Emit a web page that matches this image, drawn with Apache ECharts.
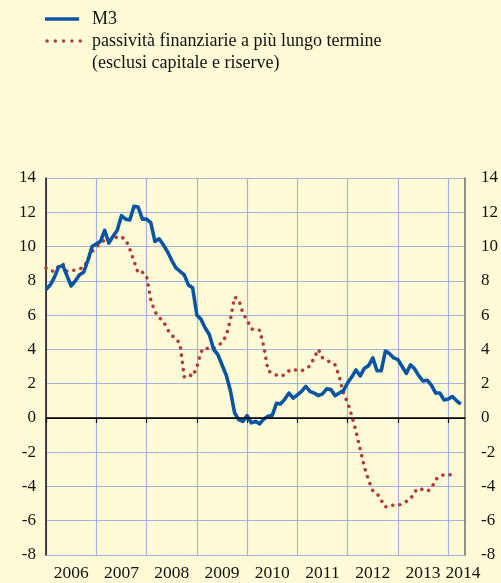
<!DOCTYPE html>
<html>
<head>
<meta charset="utf-8">
<script src="https://cdn.jsdelivr.net/npm/echarts@6/dist/echarts.min.js"></script>
<style>
  html, body { margin: 0; padding: 0; background: #fffbd6; }
  #chart { width: 501px; height: 583px; }
</style>
</head>
<body>
<div id="chart"></div>
<script>
// mesi da gennaio 2006 (indice 0) ad aprile 2014
const startYear = 2006;
const yearLabels = ['2006', '2007', '2008', '2009', '2010', '2011', '2012', '2013', '2014'];

const m3 = [7.5, 7.75, 8.2, 8.8, 8.9, 8.3, 7.7, 8.0, 8.35, 8.5,
    9.2, 10.0, 10.15, 10.3, 10.95, 10.2, 10.6, 10.95, 11.8, 11.6,
    11.55, 12.35, 12.3, 11.6, 11.6, 11.4, 10.3, 10.45, 10.1, 9.7,
    9.2, 8.75, 8.55, 8.35, 7.75, 7.6, 6.0, 5.75, 5.25, 4.85,
    4.0, 3.7, 3.1, 2.5, 1.6, 0.3, -0.1, -0.2, 0.13, -0.29,
    -0.2, -0.35, -0.06, 0.1, 0.15, 0.85, 0.82, 1.1, 1.45, 1.15,
    1.35, 1.55, 1.84, 1.55, 1.45, 1.3, 1.4, 1.7, 1.65, 1.3,
    1.45, 1.6, 2.05, 2.4, 2.8, 2.45, 2.9, 3.05, 3.5, 2.75,
    2.75, 3.9, 3.75, 3.5, 3.4, 3.0, 2.6, 3.1, 2.85, 2.45,
    2.15, 2.2, 1.9, 1.45, 1.45, 1.05, 1.1, 1.25, 1.0, 0.8];

const passivita = [8.74, 8.6, 8.54, 8.85, 9.0, 8.55, 8.58, 8.63, 8.7, 8.78,
    9.22, 9.7, 9.97, 10.2, 10.38, 10.4, 10.35, 10.6, 10.55, 10.42,
    9.85, 9.15, 8.45, 8.5, 8.3, 6.9, 6.2, 5.85, 5.65, 5.16,
    4.81, 4.65, 4.3, 2.4, 2.55, 2.42, 2.95, 3.85, 4.1, 4.0,
    4.05, 4.2, 4.4, 4.8, 5.7, 7.05, 6.9, 6.1, 5.7, 5.2,
    5.12, 5.12, 4.15, 2.75, 2.62, 2.5, 2.42, 2.52, 2.75, 2.85,
    2.75, 2.75, 2.84, 3.05, 3.5, 4.0, 3.5, 3.35, 3.25, 3.1,
    2.4, 1.4, 0.9, 0.1, -0.8, -1.85, -2.88, -3.65, -4.25, -4.4,
    -4.8, -5.2, -5.08, -5.1, -5.12, -5.0, -4.87, -4.73, -4.3, -4.1,
    -4.2, -4.28, -4.1, -3.6, -3.38, -3.32, -3.3, -3.35, -3.38];

const legendLines = ['M3', 'passività finanziarie a più lungo termine', '(esclusi capitale e riserve)'];

const blue = '#0a55a3';
const red = '#b33a3a';
const serif = '"Liberation Serif", "DejaVu Serif", serif';
const gridColor = '#a3b2e2';

function toPoints(arr) {
    let out = [];
    for (let i = 0; i < arr.length; i++) out.push([i, arr[i]]);
    return out;
}

// etichette degli anni al centro di ogni anno, 2014 vicino al bordo
let labelPos = [];
for (let i = 0; i < yearLabels.length - 1; i++) labelPos.push(i * 12 + 6);
labelPos.push(99.5);
let tickPos = [];
for (let i = 0; i < yearLabels.length; i++) tickPos.push(i * 12);

const chart = echarts.init(document.getElementById('chart'), null, { renderer: 'canvas' });

const yLabel = { fontFamily: serif, fontSize: 17, color: '#111' };

// legenda disegnata a mano (la seconda voce va su due righe)
const legendGraphic = [
    { type: 'line', shape: { x1: 45, y1: 19, x2: 79, y2: 19 }, style: { stroke: blue, lineWidth: 3.6 } },
    { type: 'line', shape: { x1: 47, y1: 41, x2: 81, y2: 41 },
      style: { stroke: red, lineWidth: 3.4, lineDash: [0.1, 8.2], lineCap: 'round' } },
    { type: 'text', x: 92, y: 19, style: { text: legendLines[0], font: '18px ' + serif, fill: '#111', verticalAlign: 'middle' } },
    { type: 'text', x: 92, y: 41, style: { text: legendLines[1], font: '18px ' + serif, fill: '#111', verticalAlign: 'middle' } },
    { type: 'text', x: 92, y: 63, style: { text: legendLines[2], font: '18px ' + serif, fill: '#111', verticalAlign: 'middle' } }
];

chart.setOption({
    backgroundColor: '#fffbd6',
    animation: false,
    graphic: legendGraphic,
    grid: { left: 46, right: 32, top: 178, bottom: 28 },
    xAxis: {
        type: 'value',
        min: 0,
        max: 100,
        interval: 12,
        offset: 4,
        axisLine: { lineStyle: { color: '#111', width: 1.2 } },
        axisTick: { show: true, length: 5, customValues: tickPos, lineStyle: { color: '#111', width: 1.2 } },
        axisLabel: {
            customValues: labelPos,
            margin: 5,
            fontFamily: serif, fontSize: 17.5, color: '#111',
            formatter: function (v) { return String(startYear + Math.floor(v / 12)); }
        },
        splitLine: { show: true, lineStyle: { color: gridColor, width: 1.2 } }
    },
    yAxis: [{
        type: 'value',
        min: -8,
        max: 14,
        interval: 2,
        axisLine: { show: true, lineStyle: { color: '#111', width: 1.5 } },
        axisTick: { show: false },
        axisLabel: Object.assign({ margin: 10 }, yLabel),
        splitLine: { show: true, lineStyle: { color: gridColor, width: 1.2 } }
    }, {
        type: 'value',
        position: 'right',
        min: -8,
        max: 14,
        interval: 2,
        axisLine: { show: true, lineStyle: { color: '#6f6f6f', width: 1.5 } },
        axisTick: { show: false },
        axisLabel: Object.assign({ margin: 16 }, yLabel),
        splitLine: { show: false }
    }],
    series: [{
        name: legendLines[1],
        type: 'line',
        data: toPoints(passivita),
        symbol: 'none',
        lineStyle: { color: red, width: 3.5, type: [0.1, 7.2], cap: 'round' },
        z: 3
    }, {
        name: legendLines[0],
        type: 'line',
        data: toPoints(m3),
        symbol: 'none',
        lineStyle: { color: blue, width: 3.6, join: 'round' },
        markLine: {
            silent: true,
            symbol: 'none',
            label: { show: false },
            lineStyle: { color: '#000', width: 1.6, type: 'solid' },
            data: [{ yAxis: 0 }]
        },
        z: 4
    }]
});
</script>
</body>
</html>
